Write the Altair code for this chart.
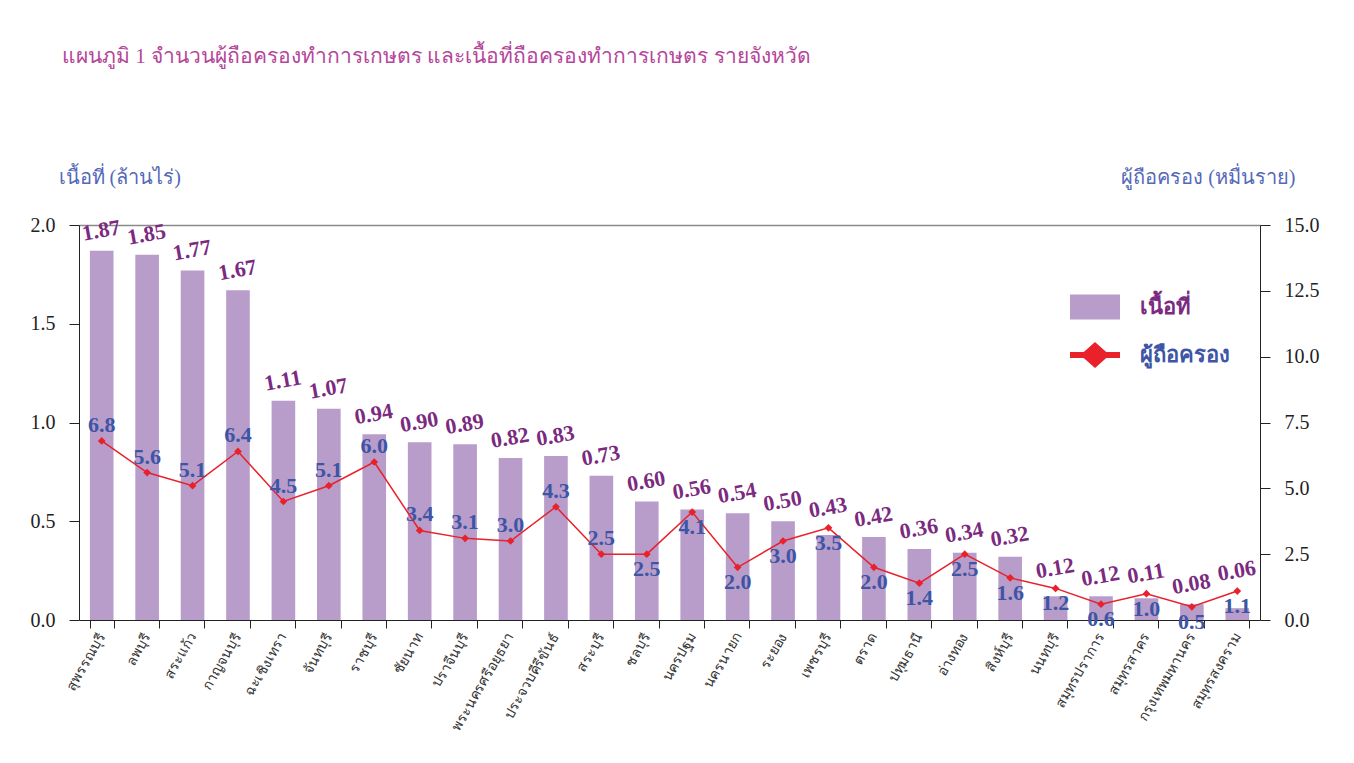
import altair as alt
import pandas as pd

provinces = ["สุพรรณบุรี", "ลพบุรี", "สระแก้ว", "กาญจนบุรี", "ฉะเชิงเทรา", "จันทบุรี", "ราชบุรี",
             "ชัยนาท", "ปราจีนบุรี", "พระนครศรีอยุธยา", "ประจวบคีรีขันธ์", "สระบุรี", "ชลบุรี",
             "นครปฐม", "นครนายก", "ระยอง", "เพชรบุรี", "ตราด", "ปทุมธานี", "อ่างทอง", "สิงห์บุรี",
             "นนทบุรี", "สมุทรปราการ", "สมุทรสาคร", "กรุงเทพมหานคร", "สมุทรสงคราม"]
area = [1.87, 1.85, 1.77, 1.67, 1.11, 1.07, 0.94, 0.90, 0.89, 0.82, 0.83, 0.73, 0.60,
        0.56, 0.54, 0.50, 0.43, 0.42, 0.36, 0.34, 0.32, 0.12, 0.12, 0.11, 0.08, 0.06]
holders = [6.8, 5.6, 5.1, 6.4, 4.5, 5.1, 6.0, 3.4, 3.1, 3.0, 4.3, 2.5, 2.5,
           4.1, 2.0, 3.0, 3.5, 2.0, 1.4, 2.5, 1.6, 1.2, 0.6, 1.0, 0.5, 1.1]
series_names = ["เนื้อที่", "ผู้ถือครอง"]

df = pd.DataFrame({"province": provinces, "area": area, "holders": holders})
legend_df = pd.DataFrame({"series": series_names})

BAR = "#b89cc9"
RED = "#e8212a"
PURPLE = "#7b2a80"
BLUE = "#3d55a5"
AXBLUE = "#5468b8"
FONT = "Liberation Serif"

x_enc = alt.X("province:N", sort=provinces, title=None,
              scale=alt.Scale(paddingInner=0.48, paddingOuter=0.24),
              axis=alt.Axis(labelAngle=-60, labelAlign="right", labelBaseline="middle",
                            labelFontSize=14, labelFont=FONT, labelColor="#333333",
                            labelPadding=6, tickBand="extent", tickSize=8,
                            domainColor="#222222", tickColor="#222222", labelLimit=300))

left_axis = alt.Axis(values=[0, 0.5, 1.0, 1.5, 2.0], format=".1f",
                     title="เนื้อที่ (ล้านไร่)", titleAngle=0, titleAlign="left",
                     titleX=-21, titleY=-38, titleFontSize=20, titleFont=FONT,
                     titleFontWeight="normal", titleColor=AXBLUE,
                     labelFontSize=20, labelFont=FONT, labelColor="#222222",
                     labelPadding=14, tickSize=10, domainColor="#222222",
                     tickColor="#222222", grid=True,
                     gridColor=alt.condition("datum.value == 2", alt.value("#8a8a8a"), alt.value("transparent")),
                     gridWidth=1.5)
right_axis = alt.Axis(orient="right", values=[0, 2.5, 5, 7.5, 10, 12.5, 15], format=".1f",
                      title="ผู้ถือครอง (หมื่นราย)", titleAngle=0, titleAlign="right",
                      titleX=35, titleY=-38, titleFontSize=20, titleFont=FONT,
                      titleFontWeight="normal", titleColor=AXBLUE,
                      labelFontSize=20, labelFont=FONT, labelColor="#222222",
                      labelPadding=14, tickSize=10, domainColor="#222222",
                      tickColor="#222222", grid=False)

base = alt.Chart(df).transform_calculate(
    labelpos="max(datum.area, datum.holders * 2 / 15)"
)

bars = base.mark_bar(color=BAR).encode(
    x=x_enc,
    y=alt.Y("area:Q", scale=alt.Scale(domain=[0, 2]), axis=left_axis),
)
bar_text = base.mark_text(color=PURPLE, font=FONT, fontWeight="bold", fontSize=22,
                          baseline="bottom", angle=350, dy=-8, dx=3).encode(
    x=alt.X("province:N", sort=provinces),
    y=alt.Y("labelpos:Q", scale=alt.Scale(domain=[0, 2]), axis=left_axis),
    text=alt.Text("area:Q", format=".2f"),
)
left = alt.layer(bars, bar_text)

y_right = alt.Y("holders:Q", scale=alt.Scale(domain=[0, 15]), axis=right_axis)
line = base.mark_line(color=RED, strokeWidth=1.5).encode(
    x=alt.X("province:N", sort=provinces), y=y_right)
pts = base.mark_point(shape="diamond", filled=True, color=RED, size=60, opacity=1).encode(
    x=alt.X("province:N", sort=provinces), y=y_right)
hold_above = base.transform_filter("datum.area >= 0.7").mark_text(
    color=BLUE, font=FONT, fontWeight="bold", fontSize=22, baseline="bottom", dy=-4).encode(
    x=alt.X("province:N", sort=provinces), y=y_right,
    text=alt.Text("holders:Q", format=".1f"))
hold_below = base.transform_filter("datum.area < 0.7").mark_text(
    color=BLUE, font=FONT, fontWeight="bold", fontSize=22, baseline="top", dy=5).encode(
    x=alt.X("province:N", sort=provinces), y=y_right,
    text=alt.Text("holders:Q", format=".1f"))
right = alt.layer(line, pts, hold_above, hold_below)

rect_path = "M-1,-0.5H1V0.5H-1Z"
line_path = "M-1,-0.12H-0.45L0,-0.52L0.45,-0.12H1V0.12H0.45L0,0.52L-0.45,0.12H-1Z"
legend_layer = alt.Chart(legend_df).mark_point(filled=True, opacity=0, size=2500).encode(
    color=alt.Color("series:N", scale=alt.Scale(domain=series_names, range=[BAR, RED]),
                    legend=alt.Legend(title=None, orient="none", legendX=991, legendY=57,
                                      symbolSize=2500, symbolOpacity=1, symbolStrokeWidth=0,
                                      labelFontSize=22, labelFont=FONT, labelFontWeight="bold",
                                      labelColor={"expr": "datum.label == 'เนื้อที่' ? '%s' : '%s'" % (PURPLE, BLUE)},
                                      rowPadding=10, labelOffset=20)),
    shape=alt.Shape("series:N", scale=alt.Scale(domain=series_names, range=[rect_path, line_path]),
                    legend=None),
)

chart = alt.layer(left, right, legend_layer).resolve_scale(y="independent").properties(
    width=1181, height=395,
    background="white",
    autosize=alt.AutoSizeParams(type="none"),
    padding={"left": 71, "top": 217, "right": 80, "bottom": 130},
    title=alt.TitleParams("แผนภูมิ 1  จำนวนผู้ถือครองทำการเกษตร และเนื้อที่ถือครองทำการเกษตร รายจังหวัด",
                          anchor="start", frame="group", dx=-17, offset=100, fontSize=21,
                          font=FONT, fontWeight="normal", color="#b5459a"),
).configure_view(stroke=None)

chart.save("out.html", embed_options={"renderer": "svg", "actions": False})
